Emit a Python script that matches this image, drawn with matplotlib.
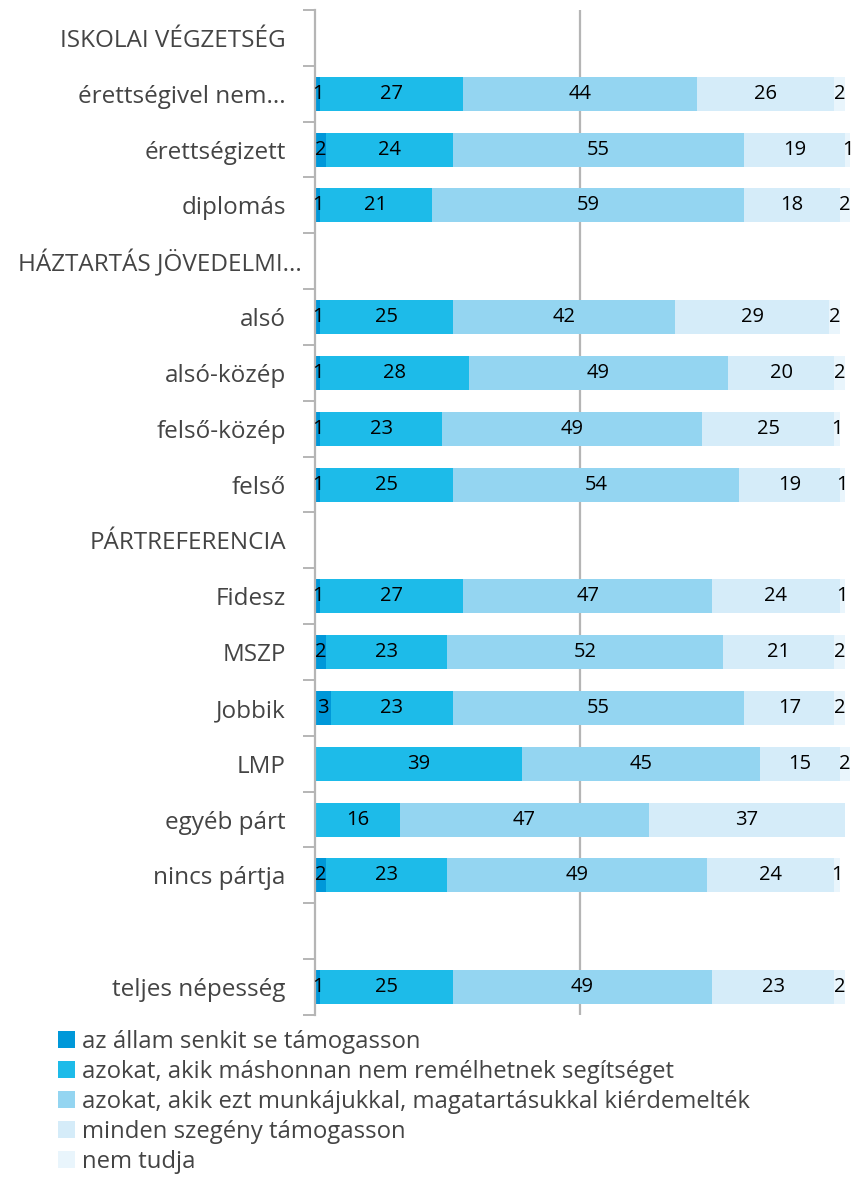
import numpy as np
import matplotlib.pyplot as plt
from matplotlib.patches import Patch
import matplotlib.transforms as mtransforms

plt.rcParams['font.family'] = ['Open Sans', 'DejaVu Sans']

categories = ["ISKOLAI VÉGZETSÉG", "érettségivel nem...", "érettségizett", "diplomás",
              "HÁZTARTÁS JÖVEDELMI...", "alsó", "alsó-közép", "felső-közép", "felső",
              "PÁRTREFERENCIA", "Fidesz", "MSZP", "Jobbik", "LMP", "egyéb párt",
              "nincs pártja", "", "teljes népesség"]

series_names = ["az állam senkit se támogasson",
                "azokat, akik máshonnan nem remélhetnek segítséget",
                "azokat, akik ezt munkájukkal, magatartásukkal kiérdemelték",
                "minden szegény támogasson",
                "nem tudja"]

# None = header / spacer rows without a bar
s1 = [None, 1, 2, 1, None, 1, 1, 1, 1, None, 1, 2, 3, 0, 0, 2, None, 1]
s2 = [None, 27, 24, 21, None, 25, 28, 23, 25, None, 27, 23, 23, 39, 16, 23, None, 25]
s3 = [None, 44, 55, 59, None, 42, 49, 49, 54, None, 47, 52, 55, 45, 47, 49, None, 49]
s4 = [None, 26, 19, 18, None, 29, 20, 25, 19, None, 24, 21, 17, 15, 37, 24, None, 23]
s5 = [None, 2, 1, 2, None, 2, 2, 1, 1, None, 1, 2, 2, 2, 0, 1, None, 2]

colors = ["#0098d9", "#1dbbe9", "#94d5f1", "#d5ecf9", "#e9f5fc"]

fig = plt.figure(figsize=(8.56, 11.77), dpi=100)
ax = fig.add_axes([315 / 856, 1 - 1015 / 1177, 541 / 856, 1005 / 1177])

y = np.arange(len(categories))
left = np.zeros(len(categories))
for vals, col in zip([s1, s2, s3, s4, s5], colors):
    v = np.array([0 if a is None else a for a in vals], dtype=float)
    bars = ax.barh(y, v, left=left, height=0.61, color=col, zorder=2)
    for rect, val in zip(bars, v):
        if val > 0:
            ax.text(rect.get_x() + rect.get_width() / 2, rect.get_y() + rect.get_height() / 2,
                    f"{int(val)}", ha="center", va="center", fontsize=14.5,
                    color="black", zorder=3)
    left += v

ax.axvline(50, color="#b5b5b5", lw=1.6, zorder=1)

ax.set_xlim(0, 102.1)
ax.set_ylim(len(categories) - 0.5, -0.5)
ax.set_xticks([])
ax.set_yticks(y)
ax.set_yticklabels(categories, fontsize=17.5, color="#444444")
ax.set_yticks(np.arange(len(categories) + 1) - 0.5, minor=True)
ax.tick_params(axis="y", which="major", length=0, pad=21)
ax.tick_params(axis="y", which="minor", length=9, width=1.4, color="#b5b5b5")
for s in ["top", "right", "bottom"]:
    ax.spines[s].set_visible(False)
ax.spines["left"].set_color("#b5b5b5")
ax.spines["left"].set_linewidth(1.6)

# the long income header sits a bit further right
for lab in ax.get_yticklabels():
    if lab.get_text() == "HÁZTARTÁS JÖVEDELMI...":
        lab.set_transform(lab.get_transform() +
                          mtransforms.ScaledTranslation(16 / 100, 0, fig.dpi_scale_trans))

handles = [Patch(facecolor=c, edgecolor="none") for c in colors]
leg = fig.legend(handles, series_names, loc="upper left",
                 bbox_to_anchor=(48 / 856, 1 - 1020 / 1177), frameon=False,
                 fontsize=17.2, handlelength=0.72, handleheight=0.72,
                 handletextpad=0.3, labelspacing=0.255, borderaxespad=0)
for t in leg.get_texts():
    t.set_color("#444444")

fig.savefig("out.png", dpi=100)
